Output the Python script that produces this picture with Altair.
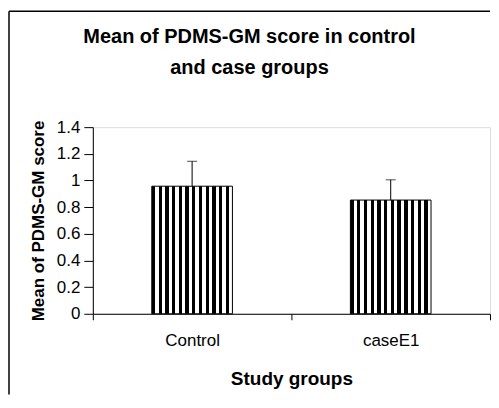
import altair as alt
import pandas as pd

# ---- data ----
groups = ["Control", "caseE1"]
means = [0.957, 0.853]
sds = [0.187, 0.152]
y_ticks = [0, 0.2, 0.4, 0.6, 0.8, 1.0, 1.2, 1.4]

df = pd.DataFrame({"group": groups, "mean": means, "sd": sds})
df["upper"] = df["mean"] + df["sd"]

W, H = 398, 187
FONT = "Liberation Sans"

# vertical black/white stripe fill (style only)
n_stripes = 12
stops = []
for i in range(n_stripes):
    a = i / n_stripes
    b = (i + 0.5) / n_stripes
    c = (i + 1) / n_stripes
    stops += [
        alt.GradientStop(offset=a, color="black"),
        alt.GradientStop(offset=b, color="black"),
        alt.GradientStop(offset=b, color="white"),
        alt.GradientStop(offset=c, color="white"),
    ]
stripes = alt.LinearGradient(gradient="linear", stops=stops, x1=0, x2=1, y1=0, y2=0)

x_axis = alt.Axis(
    title="Study groups",
    labelAngle=0,
    tickBand="extent",
    tickSize=6,
    labelPadding=13,
    labelFontSize=17,
    labelFont=FONT,
    labelColor="black",
    titleFont=FONT,
    titleFontSize=19,
    titleFontWeight="bold",
    titleColor="black",
    titlePadding=21,
    domainColor="black",
    tickColor="black",
)
x_scale = alt.Scale(paddingInner=0, paddingOuter=0)

y_axis = alt.Axis(
    title="Mean of PDMS-GM score",
    values=y_ticks,
    format=".1~f",
    grid=False,
    labelOverlap=False,
    tickSize=9,
    labelPadding=4,
    labelFontSize=17,
    labelFont=FONT,
    labelColor="black",
    titleFont=FONT,
    titleFontSize=17,
    titleFontWeight="bold",
    titleColor="black",
    titlePadding=9,
    domainColor="black",
    tickColor="black",
)
y_scale = alt.Scale(domain=[0, 1.4], nice=False)


def xe():
    return alt.X("group:N", sort=groups, scale=x_scale, axis=x_axis)


def ye(field):
    return alt.Y(field, scale=y_scale, axis=y_axis)


bars = alt.Chart(df).mark_bar(
    color=stripes, stroke="black", strokeWidth=1, width=alt.RelativeBandSize(0.406)
).encode(x=xe(), y=ye("mean:Q"))

err = alt.Chart(df).mark_rule(color="black", strokeWidth=1).encode(
    x=xe(), y=ye("mean:Q"), y2="upper:Q"
)
cap = alt.Chart(df).mark_tick(color="black", size=10, thickness=1).encode(
    x=xe(), y=ye("upper:Q")
)

frame_src = alt.Data(values=[{"k": 0}])
left_line = alt.Chart(frame_src).mark_rule(color="black", strokeWidth=1.5).encode(
    x=alt.value(-84), y=alt.value(-116.25), y2=alt.value(268)
)
top_line = alt.Chart(frame_src).mark_rule(color="black", strokeWidth=1.5).encode(
    x=alt.value(-84), x2=alt.value(W), y=alt.value(-116.25)
)

chart = (
    alt.layer(bars, err, cap, left_line, top_line)
    .properties(
        width=W,
        height=H,
        padding={"left": 0, "top": 2, "right": 0, "bottom": 0},
        title=alt.TitleParams(
            text=["Mean of PDMS-GM score in control", "and case groups"],
            font=FONT,
            fontSize=20,
            fontWeight="bold",
            color="black",
            anchor="middle",
            frame="bounds",
            offset=-68,
            lineHeight=31,
        ),
    )
    .configure_view(stroke=None)
    .configure(background="white")
)

chart.save("out.html", embed_options={"renderer": "svg", "actions": False})
